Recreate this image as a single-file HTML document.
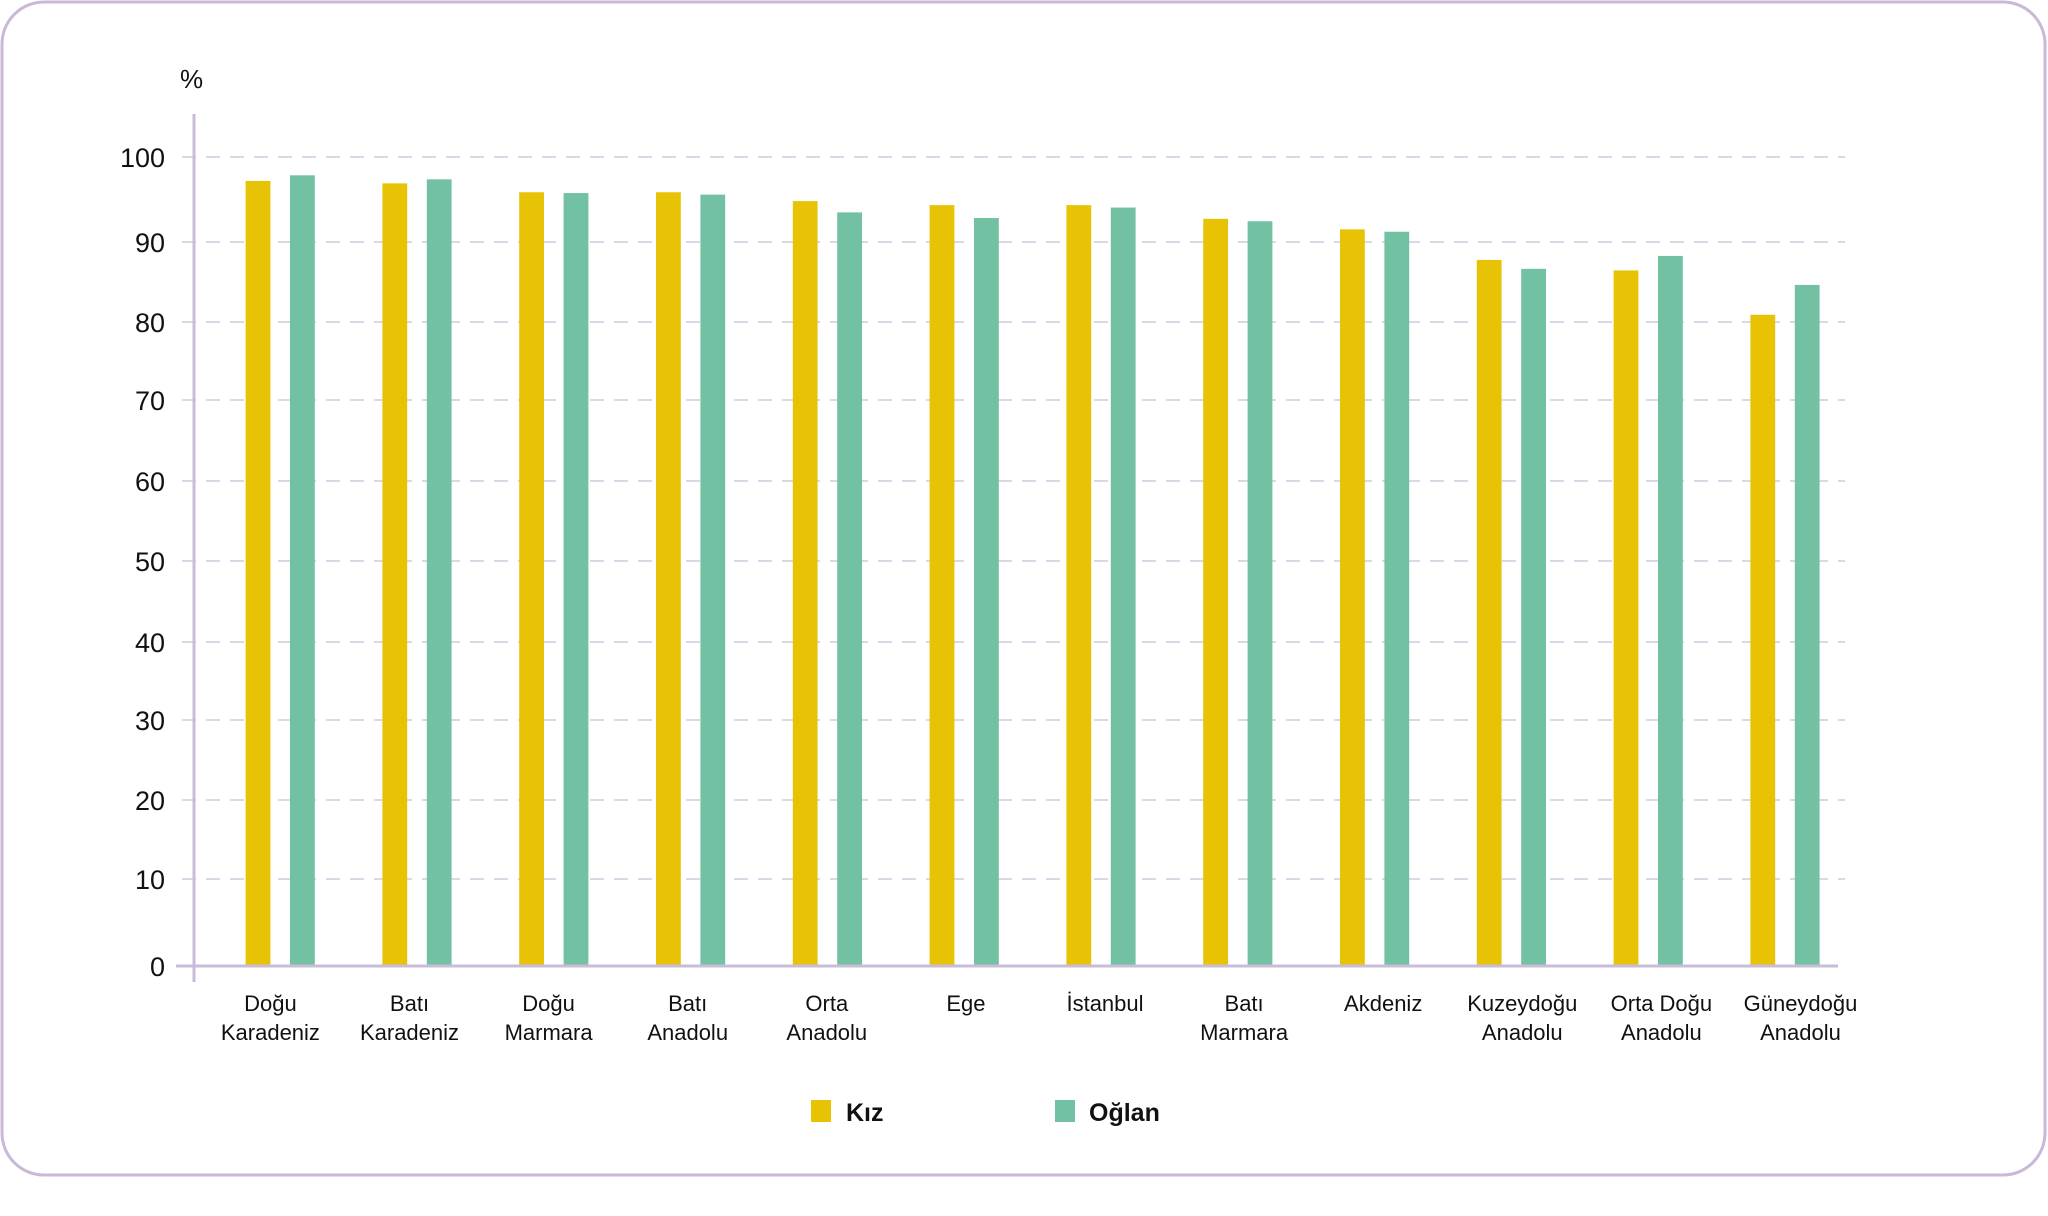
<!DOCTYPE html>
<html><head><meta charset="utf-8"><style>
html,body{margin:0;padding:0;background:#fff;}
svg{display:block;}
text{font-family:"Liberation Sans",sans-serif;fill:#111;}
</style></head><body>
<svg width="2048" height="1216" viewBox="0 0 2048 1216" xmlns="http://www.w3.org/2000/svg">
<rect x="2" y="2" width="2043" height="1173" rx="42" ry="42" fill="#fff" stroke="#c9b8d8" stroke-width="3"/>
<g stroke="#dcd7e6" stroke-width="2" stroke-dasharray="14,10">
<line x1="182" y1="157" x2="1845" y2="157"/>
<line x1="182" y1="242" x2="1845" y2="242"/>
<line x1="182" y1="322" x2="1845" y2="322"/>
<line x1="182" y1="400" x2="1845" y2="400"/>
<line x1="182" y1="481" x2="1845" y2="481"/>
<line x1="182" y1="561" x2="1845" y2="561"/>
<line x1="182" y1="642" x2="1845" y2="642"/>
<line x1="182" y1="720" x2="1845" y2="720"/>
<line x1="182" y1="800" x2="1845" y2="800"/>
<line x1="182" y1="879" x2="1845" y2="879"/>
</g>
<g font-size="27" text-anchor="end">
<text x="165" y="167">100</text><text x="165" y="252">90</text><text x="165" y="332">80</text>
<text x="165" y="410">70</text><text x="165" y="491">60</text><text x="165" y="571">50</text>
<text x="165" y="652">40</text><text x="165" y="730">30</text><text x="165" y="810">20</text>
<text x="165" y="889">10</text><text x="165" y="976">0</text>
</g>
<text x="180" y="88" font-size="26">%</text>
<g id="bars"></g>
<line x1="194" y1="114" x2="194" y2="982" stroke="#c8bcd8" stroke-width="3"/>
<line x1="176" y1="966" x2="1838" y2="966" stroke="#c8bcd8" stroke-width="3"/>
<g id="labels" font-size="22" text-anchor="middle"></g>
<rect x="811" y="1100" width="20" height="22" fill="#e8c305"/>
<text x="846" y="1121" font-size="25" font-weight="bold">Kız</text>
<rect x="1055" y="1100" width="20" height="22" fill="#72c1a2"/>
<text x="1089" y="1121" font-size="25" font-weight="bold">Oğlan</text>
<script>
var k=[97.4,97.1,96,96,94.9,94.4,94.4,92.7,91.4,87.6,86.3,80.8];
var o=[98.1,97.6,95.9,95.7,93.5,92.8,94.1,92.4,91.1,86.5,88.1,84.5];
var L=[["Doğu","Karadeniz"],["Batı","Karadeniz"],["Doğu","Marmara"],["Batı","Anadolu"],["Orta","Anadolu"],["Ege",""],["İstanbul",""],["Batı","Marmara"],["Akdeniz",""],["Kuzeydoğu","Anadolu"],["Orta Doğu","Anadolu"],["Güneydoğu","Anadolu"]];
var ns="http://www.w3.org/2000/svg",b=document.getElementById("bars"),lb=document.getElementById("labels");
function y(v){return 966-(v/100)*806;}
for(var i=0;i<12;i++){
 var x=245.6+i*136.8;
 [[k[i],x,"#e8c305"],[o[i],x+44.4,"#72c1a2"]].forEach(function(d){
  var r=document.createElementNS(ns,"rect");r.setAttribute("x",d[1]);r.setAttribute("y",y(d[0]));
  r.setAttribute("width",24.8);r.setAttribute("height",966-y(d[0]));r.setAttribute("fill",d[2]);b.appendChild(r);});
 var cx=270.4+i*139.1;
 for(var j=0;j<2;j++){if(!L[i][j])continue;var t=document.createElementNS(ns,"text");
  t.setAttribute("x",cx);t.setAttribute("y",1011+j*29);t.textContent=L[i][j];lb.appendChild(t);}
}
</script>
</svg>
</body></html>
